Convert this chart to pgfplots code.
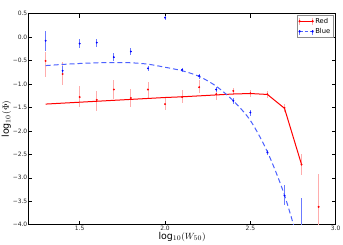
\documentclass[border=0pt]{standalone}
\usepackage{pgfplots}
\pgfplotsset{compat=1.18}
\usepackage{fontspec}
\setsansfont{DejaVu Sans}
\definecolor{bluedash}{rgb}{0.3,0.38,1}
\definecolor{rederr}{rgb}{1,0.68,0.68}
\definecolor{blueerr}{rgb}{0.42,0.48,1}
\begin{document}
\begin{tikzpicture}
\useasboundingbox (-28.5bp,-20.3bp) rectangle (314.5bp,224.7bp);
\begin{axis}[
  at={(0,0)}, anchor=south west,
  scale only axis, width=307.2bp, height=211.2bp,
  xmin=1.2, xmax=3.0, ymin=-4, ymax=0.5,
  xtick={1.5,2,2.5,3}, xticklabels={1.5,2.0,2.5,3.0},
  ytick={-4,-3.5,-3,-2.5,-2,-1.5,-1,-0.5,0,0.5},
  yticklabels={−4.0,−3.5,−3.0,−2.5,−2.0,−1.5,−1.0,−0.5,0.0,0.5},
  tick align=inside, major tick length=4bp,
  tick style={black, line width=0.5bp},
  axis line style={black, line width=0.9bp},
  ticklabel style={font=\sffamily\fontsize{6}{6}\selectfont, text=black!85},
  xticklabel style={inner sep=1bp},
  yticklabel style={inner sep=1bp},
  xlabel={\textsf{log}$_{10}(W_{50})$},
  ylabel={\textsf{log}$_{10}(\Phi)$},
  label style={font=\fontsize{9.5}{10}\selectfont},
  xlabel style={at={(axis description cs:0.5,-0.035)}, anchor=north, inner sep=0pt},
  ylabel style={at={(axis description cs:-0.072,0.5)}, anchor=center, inner sep=0pt},
  legend style={at={(1,1)}, anchor=north east, xshift=-2.5bp, yshift=-1.5bp,
    font=\sffamily\fontsize{6.8}{8}\selectfont, draw=black!45, line width=0.5bp,
    inner sep=1.2bp, row sep=0.5bp, nodes={inner sep=1.5bp}},
  legend cell align=left,
]
% Red data points
\addplot[only marks, mark=*, mark size=0.75bp, red, forget plot,
  error bars/.cd, y dir=both, y explicit, error mark=none,
  error bar style={rederr, line width=0.8bp}]
coordinates {
(1.3,-0.51) += (0,0.20) -= (0,0.34)
(1.4,-0.79) += (0,0.25) -= (0,0.24)
(1.5,-1.28) += (0,0.23) -= (0,0.21)
(1.6,-1.34) += (0,0.19) -= (0,0.23)
(1.7,-1.12) += (0,0.20) -= (0,0.20)
(1.8,-1.30) += (0,0.19) -= (0,0.20)
(1.9,-1.12) += (0,0.16) -= (0,0.21)
(2.0,-1.43) += (0,0.13) -= (0,0.13)
(2.1,-1.28) += (0,0.15) -= (0,0.13)
(2.2,-1.07) += (0,0.15) -= (0,0.12)
(2.3,-1.22) += (0,0.09) -= (0,0.12)
(2.4,-1.15) += (0,0.06) -= (0,0.08)
(2.5,-1.20) += (0,0.06) -= (0,0.07)
(2.6,-1.22) += (0,0.07) -= (0,0.07)
(2.7,-1.51) += (0,0.08) -= (0,0.09)
(2.8,-2.72) += (0,0.22) -= (0,0.22)
(2.9,-3.62) += (0,0.71) -= (0,0.90)
};
% Blue data points
\addplot[only marks, mark=*, mark size=0.75bp, blue, forget plot,
  error bars/.cd, y dir=both, y explicit, error mark=none,
  error bar style={blueerr, line width=0.8bp}]
coordinates {
(1.3,-0.08) += (0,0.21) -= (0,0.21)
(1.4,-0.72) += (0,0.10) -= (0,0.10)
(1.5,-0.14) += (0,0.10) -= (0,0.09)
(1.6,-0.12) += (0,0.08) -= (0,0.09)
(1.7,-0.43) += (0,0.08) -= (0,0.08)
(1.8,-0.31) += (0,0.07) -= (0,0.07)
(1.9,-0.67) += (0,0.06) -= (0,0.05)
(2.0,0.41) += (0,0.04) -= (0,0.05)
(2.1,-0.70) += (0,0.04) -= (0,0.04)
(2.2,-0.83) += (0,0.05) -= (0,0.06)
(2.3,-1.12) += (0,0.06) -= (0,0.06)
(2.4,-1.36) += (0,0.05) -= (0,0.06)
(2.5,-1.61) += (0,0.06) -= (0,0.07)
(2.6,-2.46) += (0,0.06) -= (0,0.06)
(2.7,-3.38) += (0,0.22) -= (0,0.20)
(2.8,-4.30) += (0,0.87) -= (0,1.00)
};
% Red model line
\addplot[red, line width=1bp,
  legend image code/.code={
    \draw[rederr, line width=0.8bp] (0bp,-3.5bp)--(0bp,3.5bp) (13bp,-3.5bp)--(13bp,3.5bp);
    \draw[red, line width=1bp] (0bp,0bp)--(13bp,0bp);
    \fill[red] (0bp,0bp) circle (0.6bp) (13bp,0bp) circle (0.6bp);}]
coordinates {
(1.3,-1.43) (1.4,-1.41) (1.5,-1.39) (1.6,-1.37) (1.7,-1.35) (1.8,-1.33)
(1.9,-1.31) (2.0,-1.29) (2.1,-1.275) (2.2,-1.255) (2.3,-1.235) (2.4,-1.215)
(2.5,-1.205) (2.6,-1.225) (2.7,-1.52) (2.8,-2.72)
};
\addlegendentry{Red}
% Blue model curve
\addplot[bluedash, line width=1bp, dash pattern=on 5bp off 3bp, smooth,
  legend image code/.code={
    \draw[blueerr, line width=0.8bp] (0bp,-3.5bp)--(0bp,3.5bp) (13bp,-3.5bp)--(13bp,3.5bp);
    \draw[bluedash, line width=1bp, dash pattern=on 3bp off 2bp] (0bp,0bp)--(13bp,0bp);
    \fill[blue] (0bp,0bp) circle (0.6bp) (13bp,0bp) circle (0.6bp);}]
coordinates {
(1.3,-0.61) (1.4,-0.585) (1.5,-0.565) (1.6,-0.55) (1.7,-0.545) (1.8,-0.55)
(1.9,-0.58) (2.0,-0.645) (2.1,-0.72) (2.2,-0.84) (2.3,-1.05) (2.4,-1.36)
(2.5,-1.78) (2.6,-2.45) (2.7,-3.37) (2.8,-4.6)
};
\addlegendentry{Blue}
\end{axis}
\end{tikzpicture}
\end{document}
